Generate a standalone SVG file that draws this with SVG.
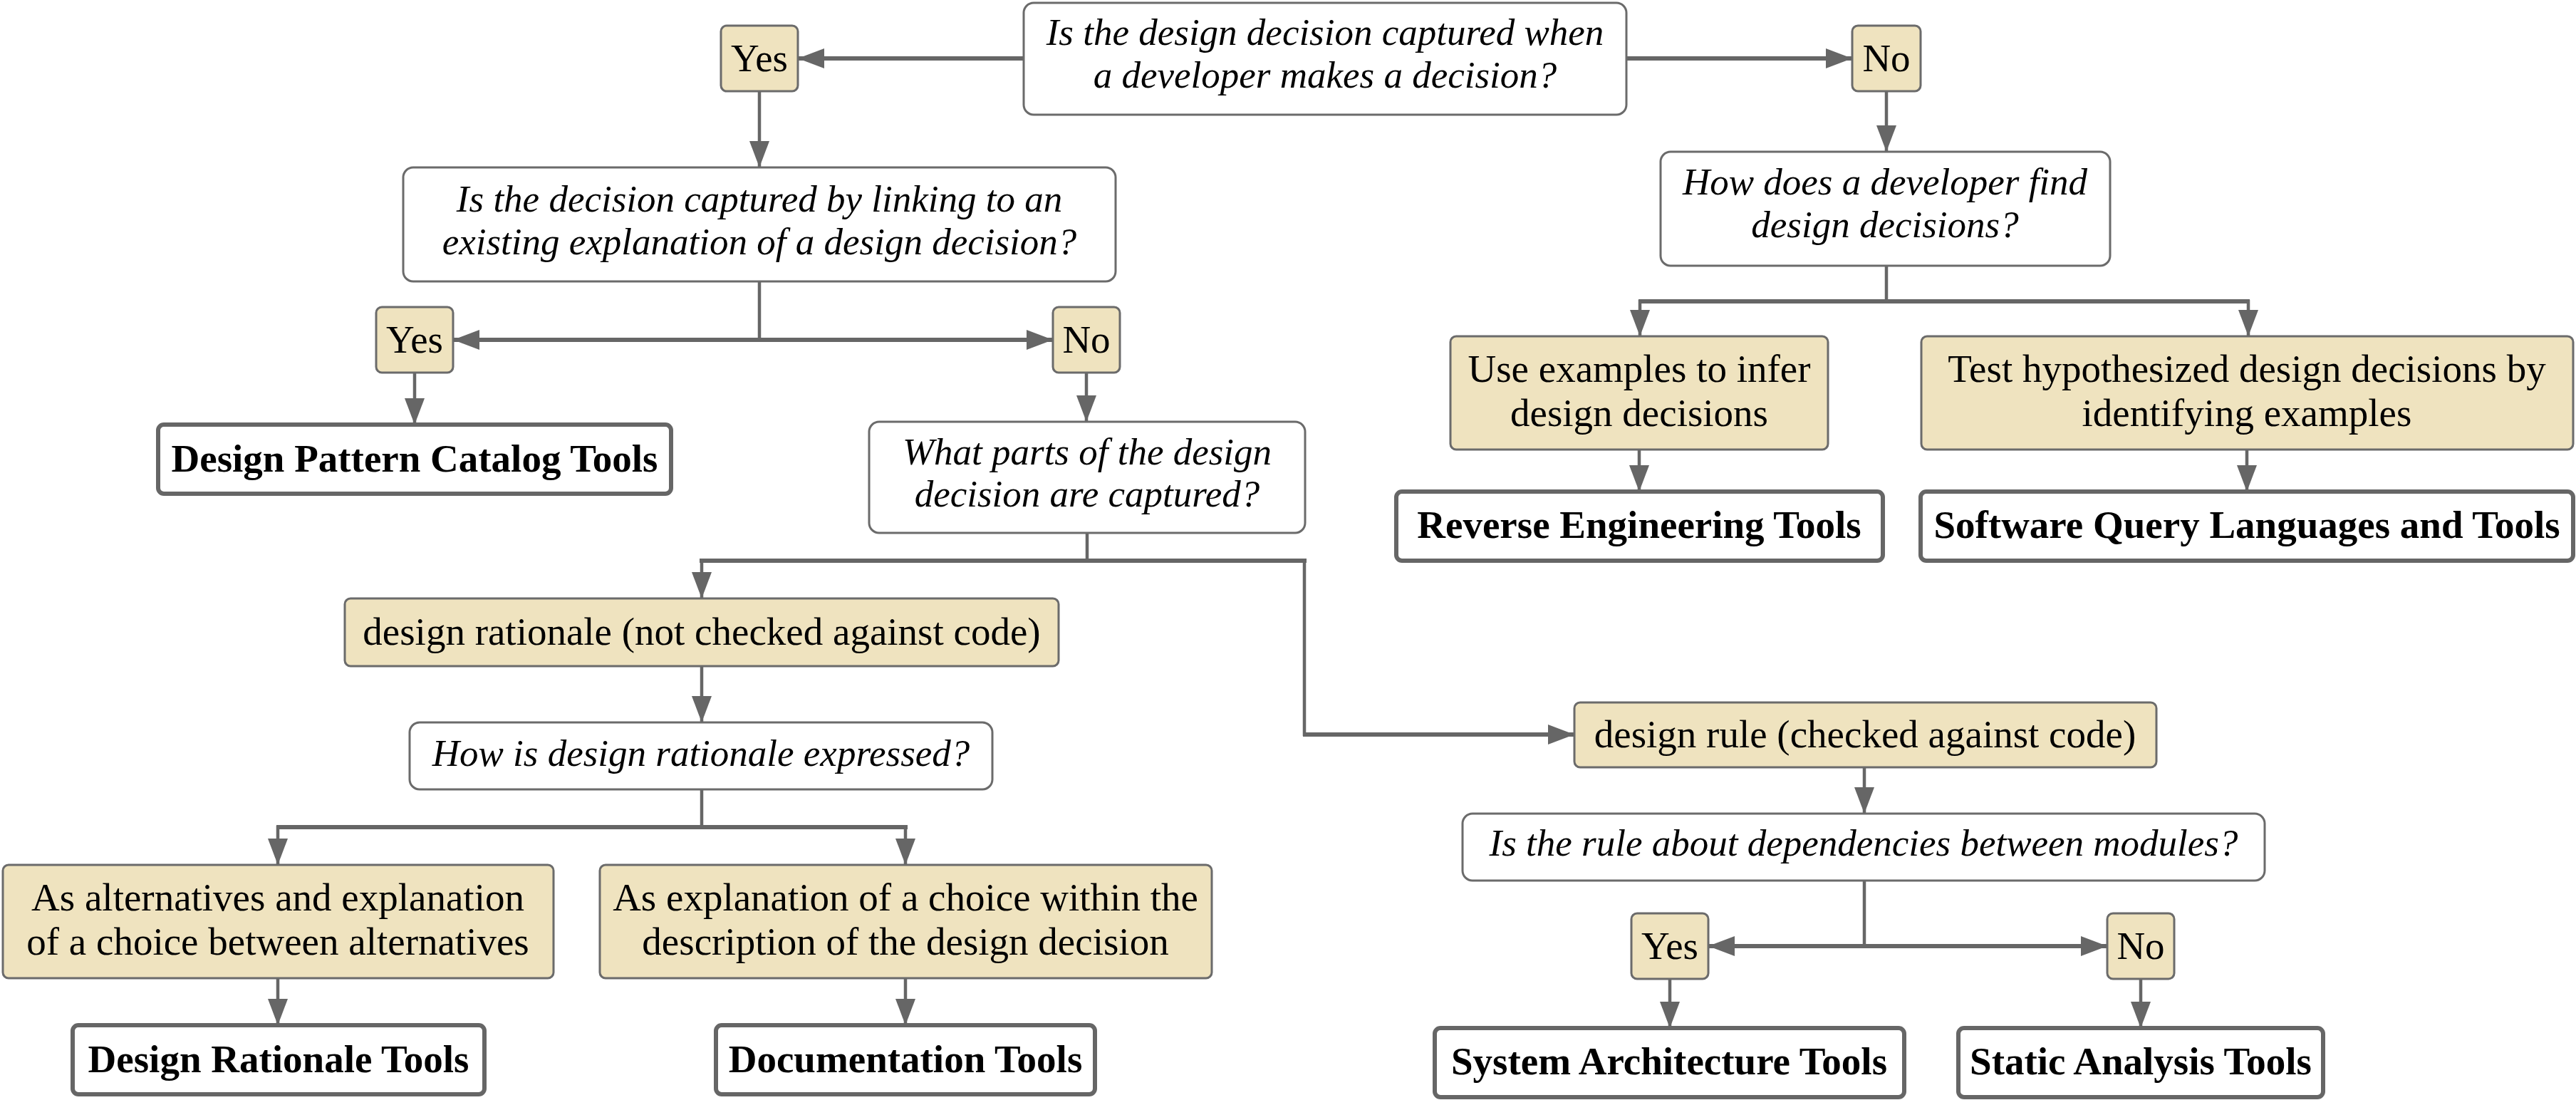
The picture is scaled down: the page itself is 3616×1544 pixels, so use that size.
<svg xmlns="http://www.w3.org/2000/svg" width="3616" height="1544" viewBox="0 0 3616 1544">
<defs>
<marker id="ah" markerUnits="userSpaceOnUse" markerWidth="38" markerHeight="28" refX="37" refY="14" orient="auto">
<path d="M0,0 L37,14 L0,28 z" fill="#666666"/>
</marker>
<style>
.q{fill:#ffffff;stroke:#6b6b6b;stroke-width:3}
.a{fill:#EFE3BF;stroke:#6b6b6b;stroke-width:3}
.t{fill:#ffffff;stroke:#666666;stroke-width:6}
.h{stroke:#666666;stroke-width:6;fill:none}
.v{stroke:#666666;stroke-width:4.5;fill:none}
text{font-family:"Liberation Serif","Times New Roman",serif;fill:#000;text-anchor:middle}
.it{font-style:italic;font-size:53px}
.rg{font-size:55px}
.bd{font-size:55px;font-weight:bold}
</style>
</defs>
<rect width="3616" height="1544" fill="#ffffff"/>
<g id="connectors">
<line class="h" x1="1437" y1="82" x2="1120" y2="82" marker-end="url(#ah)"/>
<line class="h" x1="2283" y1="82" x2="2600" y2="82" marker-end="url(#ah)"/>
<line class="v" x1="1066" y1="128" x2="1066" y2="235" marker-end="url(#ah)"/>
<line class="v" x1="2648" y1="128" x2="2648" y2="213" marker-end="url(#ah)"/>
<line class="v" x1="1066" y1="395" x2="1066" y2="477"/>
<line class="h" x1="1066" y1="477" x2="636" y2="477" marker-end="url(#ah)"/>
<line class="h" x1="1066" y1="477" x2="1478" y2="477" marker-end="url(#ah)"/>
<line class="v" x1="582" y1="523" x2="582" y2="596" marker-end="url(#ah)"/>
<line class="v" x1="1525" y1="523" x2="1525" y2="592" marker-end="url(#ah)"/>
<line class="v" x1="1526" y1="748" x2="1526" y2="787"/>
<line class="h" x1="982" y1="787" x2="1834" y2="787"/>
<line class="v" x1="985" y1="785" x2="985" y2="840" marker-end="url(#ah)"/>
<line class="v" x1="1831" y1="785" x2="1831" y2="1033"/>
<line class="h" x1="1829" y1="1031" x2="2210" y2="1031" marker-end="url(#ah)"/>
<line class="v" x1="985" y1="935" x2="985" y2="1014" marker-end="url(#ah)"/>
<line class="v" x1="985" y1="1108" x2="985" y2="1161"/>
<line class="h" x1="388" y1="1161" x2="1274" y2="1161"/>
<line class="v" x1="390" y1="1159" x2="390" y2="1214" marker-end="url(#ah)"/>
<line class="v" x1="1271" y1="1159" x2="1271" y2="1214" marker-end="url(#ah)"/>
<line class="v" x1="390" y1="1373" x2="390" y2="1439" marker-end="url(#ah)"/>
<line class="v" x1="1271" y1="1373" x2="1271" y2="1439" marker-end="url(#ah)"/>
<line class="v" x1="2648" y1="373" x2="2648" y2="423"/>
<line class="h" x1="2300" y1="423" x2="3158" y2="423"/>
<line class="v" x1="2302" y1="421" x2="2302" y2="472" marker-end="url(#ah)"/>
<line class="v" x1="3156" y1="421" x2="3156" y2="472" marker-end="url(#ah)"/>
<line class="v" x1="2301" y1="631" x2="2301" y2="690" marker-end="url(#ah)"/>
<line class="v" x1="3154" y1="631" x2="3154" y2="690" marker-end="url(#ah)"/>
<line class="v" x1="2617" y1="1077" x2="2617" y2="1142" marker-end="url(#ah)"/>
<line class="v" x1="2617" y1="1236" x2="2617" y2="1328"/>
<line class="h" x1="2617" y1="1328" x2="2398" y2="1328" marker-end="url(#ah)"/>
<line class="h" x1="2617" y1="1328" x2="2958" y2="1328" marker-end="url(#ah)"/>
<line class="v" x1="2344" y1="1374" x2="2344" y2="1443" marker-end="url(#ah)"/>
<line class="v" x1="3005" y1="1374" x2="3005" y2="1443" marker-end="url(#ah)"/>
</g>
<g id="q1"><rect class="q" x="1437" y="4" width="846" height="157" rx="14"/>
<text class="it" x="1860" y="63">Is the design decision captured when</text>
<text class="it" x="1860" y="123">a developer makes a decision?</text></g>
<g id="yes1"><rect class="a" x="1012" y="36" width="108" height="92" rx="8"/><text class="rg" x="1066" y="100">Yes</text></g>
<g id="no1"><rect class="a" x="2600" y="36" width="96" height="92" rx="8"/><text class="rg" x="2648" y="100">No</text></g>
<g id="q3"><rect class="q" x="566" y="235" width="1000" height="160" rx="14"/>
<text class="it" x="1066" y="297">Is the decision captured by linking to an</text>
<text class="it" x="1066" y="357">existing explanation of a design decision?</text></g>
<g id="q2"><rect class="q" x="2331" y="213" width="631" height="160" rx="14"/>
<text class="it" x="2646" y="273">How does a developer find</text>
<text class="it" x="2646" y="333">design decisions?</text></g>
<g id="yes2"><rect class="a" x="528" y="431" width="108" height="92" rx="8"/><text class="rg" x="582" y="495">Yes</text></g>
<g id="no2"><rect class="a" x="1478" y="431" width="94" height="92" rx="8"/><text class="rg" x="1525" y="495">No</text></g>
<g id="dpct"><rect class="t" x="222" y="596" width="720" height="97" rx="8"/><text class="bd" x="582" y="662">Design Pattern Catalog Tools</text></g>
<g id="whatparts"><rect class="q" x="1220" y="592" width="612" height="156" rx="14"/>
<text class="it" x="1526" y="652">What parts of the design</text>
<text class="it" x="1526" y="711">decision are captured?</text></g>
<g id="useex"><rect class="a" x="2036" y="472" width="530" height="159" rx="8"/>
<text class="rg" x="2301" y="536">Use examples to infer</text>
<text class="rg" x="2301" y="598">design decisions</text></g>
<g id="testhyp"><rect class="a" x="2697" y="472" width="915" height="159" rx="8"/>
<text class="rg" x="3154" y="536">Test hypothesized design decisions by</text>
<text class="rg" x="3154" y="598">identifying examples</text></g>
<g id="ret"><rect class="t" x="1960" y="690" width="683" height="97" rx="8"/><text class="bd" x="2301" y="755">Reverse Engineering Tools</text></g>
<g id="sql"><rect class="t" x="2696" y="690" width="916" height="97" rx="8"/><text class="bd" x="3154" y="755">Software Query Languages and Tools</text></g>
<g id="rationale"><rect class="a" x="484" y="840" width="1002" height="95" rx="8"/><text class="rg" x="985" y="905">design rationale (not checked against code)</text></g>
<g id="rule"><rect class="a" x="2210" y="986" width="817" height="91" rx="8"/><text class="rg" x="2618" y="1049">design rule (checked against code)</text></g>
<g id="howis"><rect class="q" x="575" y="1014" width="818" height="94" rx="14"/><text class="it" x="984" y="1075">How is design rationale expressed?</text></g>
<g id="isrule"><rect class="q" x="2053" y="1142" width="1126" height="94" rx="14"/><text class="it" x="2616" y="1201">Is the rule about dependencies between modules?</text></g>
<g id="asalt"><rect class="a" x="4" y="1214" width="773" height="159" rx="8"/>
<text class="rg" x="390" y="1278">As alternatives and explanation</text>
<text class="rg" x="390" y="1340">of a choice between alternatives</text></g>
<g id="asexpl"><rect class="a" x="842" y="1214" width="859" height="159" rx="8"/>
<text class="rg" x="1271" y="1278">As explanation of a choice within the</text>
<text class="rg" x="1271" y="1340">description of the design decision</text></g>
<g id="yes3"><rect class="a" x="2290" y="1282" width="108" height="92" rx="8"/><text class="rg" x="2344" y="1346">Yes</text></g>
<g id="no3"><rect class="a" x="2958" y="1282" width="94" height="92" rx="8"/><text class="rg" x="3005" y="1346">No</text></g>
<g id="drt"><rect class="t" x="102" y="1439" width="578" height="97" rx="8"/><text class="bd" x="391" y="1505">Design Rationale Tools</text></g>
<g id="doct"><rect class="t" x="1005" y="1439" width="532" height="97" rx="8"/><text class="bd" x="1271" y="1505">Documentation Tools</text></g>
<g id="sat"><rect class="t" x="2014" y="1443" width="659" height="97" rx="8"/><text class="bd" x="2343" y="1508">System Architecture Tools</text></g>
<g id="stat"><rect class="t" x="2749" y="1443" width="512" height="97" rx="8"/><text class="bd" x="3005" y="1508">Static Analysis Tools</text></g>
</svg>
